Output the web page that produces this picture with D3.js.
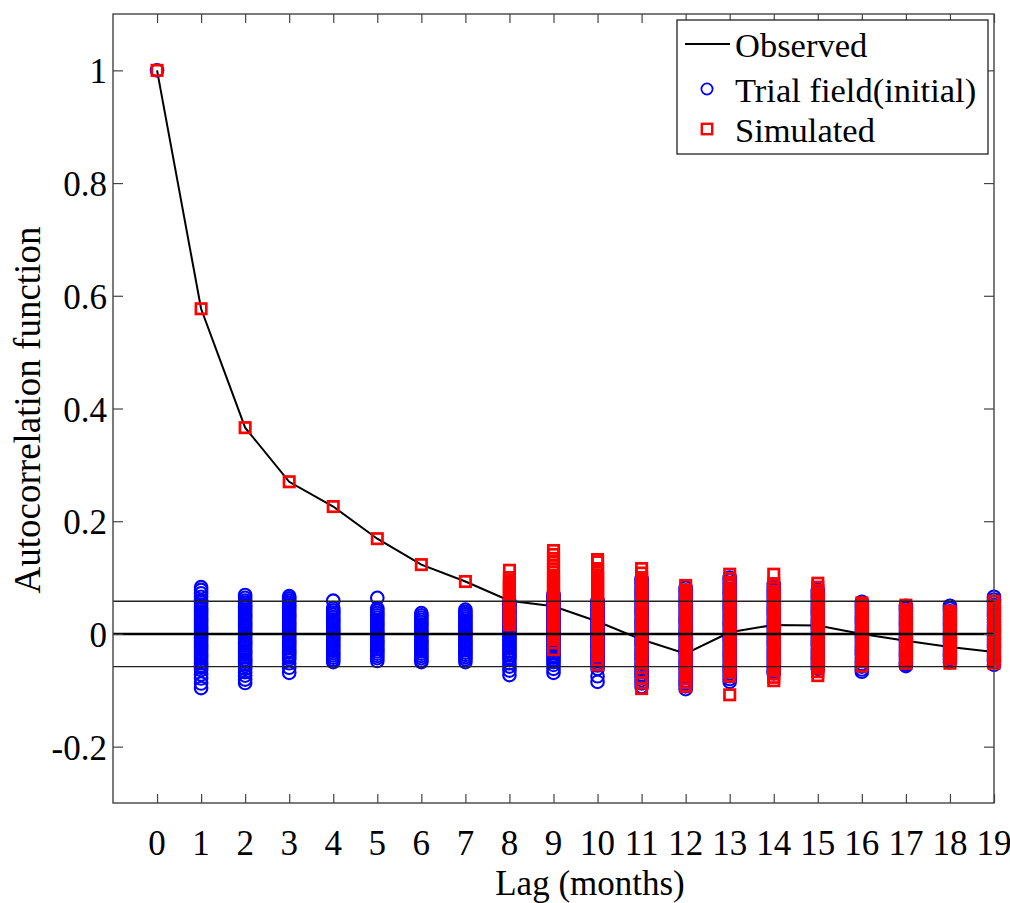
<!DOCTYPE html>
<html>
<head>
<meta charset="utf-8">
<script src="https://cdnjs.cloudflare.com/ajax/libs/d3/7.8.5/d3.min.js"></script>
<style>
  html, body { margin: 0; padding: 0; background: #fff; }
  svg text { font-family: "Liberation Serif", "Times New Roman", serif; fill: #000; }
</style>
</head>
<body>
<svg id="chart" width="1010" height="903"></svg>
<script>
// ---------------- data ----------------
const lags = [0,1,2,3,4,5,6,7,8,9,10,11,12,13,14,15,16,17,18,19];
const observed = [1.0,0.577,0.366,0.270,0.226,0.169,0.123,0.093,0.059,0.049,0.022,-0.010,-0.035,0.003,0.016,0.015,0.000,-0.012,-0.023,-0.032];
const confidenceBound = 0.058;
const xTickLabels = ["0","1","2","3","4","5","6","7","8","9","10","11","12","13","14","15","16","17","18","19"];
const yTickValues = [-0.2,0,0.2,0.4,0.6,0.8,1];
const yTickLabels = ["-0.2","0","0.2","0.4","0.6","0.8","1"];
const legendLabels = ["Observed","Trial field(initial)","Simulated"];

// Trial field (initial) realisations, one list per lag
const trialLag0 = [1.0];
const trialLag1 = [0.083,0.078,0.072,0.066,0.060,0.056,0.052,0.048,0.044,0.040,0.036,0.032,0.028,0.024,0.020,0.016,0.012,0.008,0.004,0.000,-0.004,-0.008,-0.012,-0.016,-0.020,-0.024,-0.028,-0.032,-0.036,-0.040,-0.044,-0.048,-0.052,-0.056,-0.060,-0.064,-0.072,-0.079,-0.088,-0.096];
const trialLag2 = [0.069,0.064,0.059,0.055,0.051,0.047,0.043,0.039,0.035,0.031,0.027,0.023,0.019,0.015,0.011,0.007,0.003,-0.001,-0.005,-0.009,-0.013,-0.017,-0.021,-0.025,-0.029,-0.033,-0.037,-0.041,-0.045,-0.049,-0.053,-0.057,-0.062,-0.068,-0.074,-0.081,-0.087];
const trialLag3 = [0.067,0.063,0.059,0.055,0.051,0.047,0.043,0.039,0.035,0.031,0.027,0.023,0.019,0.015,0.011,0.007,0.003,-0.001,-0.005,-0.009,-0.013,-0.017,-0.021,-0.025,-0.029,-0.033,-0.037,-0.041,-0.045,-0.052,-0.060,-0.069];
const trialLag4 = [0.059,0.046,0.042,0.038,0.034,0.030,0.026,0.022,0.018,0.014,0.010,0.006,0.002,-0.002,-0.006,-0.010,-0.014,-0.018,-0.022,-0.026,-0.030,-0.034,-0.038,-0.042,-0.046,-0.050];
const trialLag5 = [0.064,0.045,0.041,0.037,0.033,0.029,0.025,0.021,0.017,0.013,0.009,0.005,0.001,-0.003,-0.007,-0.011,-0.015,-0.019,-0.023,-0.027,-0.031,-0.035,-0.039,-0.043,-0.048];
const trialLag6 = [0.037,0.033,0.029,0.025,0.021,0.017,0.013,0.009,0.005,0.001,-0.003,-0.007,-0.011,-0.015,-0.019,-0.023,-0.027,-0.031,-0.035,-0.039,-0.043,-0.047,-0.050];
const trialLag7 = [0.043,0.039,0.035,0.031,0.027,0.023,0.019,0.015,0.011,0.007,0.003,-0.001,-0.005,-0.009,-0.013,-0.017,-0.021,-0.025,-0.029,-0.033,-0.037,-0.041,-0.045,-0.050];
const trialLag8 = [0.058,0.054,0.050,0.046,0.042,0.038,0.034,0.030,0.026,0.022,0.018,0.014,0.010,0.006,0.002,-0.002,-0.006,-0.010,-0.014,-0.018,-0.022,-0.026,-0.030,-0.034,-0.038,-0.042,-0.046,-0.052,-0.058,-0.065,-0.073];
const trialLag9 = [0.070,0.066,0.062,0.058,0.054,0.050,0.046,0.042,0.038,0.034,0.030,0.026,0.022,0.018,0.014,0.010,0.006,0.002,-0.002,-0.006,-0.010,-0.014,-0.018,-0.022,-0.026,-0.030,-0.034,-0.038,-0.042,-0.046,-0.050,-0.055,-0.062,-0.069];
const trialLag10 = [0.060,0.056,0.052,0.048,0.044,0.040,0.036,0.032,0.028,0.024,0.020,0.016,0.012,0.008,0.004,0.000,-0.004,-0.008,-0.012,-0.016,-0.020,-0.024,-0.028,-0.032,-0.036,-0.040,-0.044,-0.048,-0.052,-0.056,-0.062,-0.075,-0.085];
const trialLag11 = [0.098,0.093,0.088,0.083,0.078,0.073,0.068,0.063,0.058,0.053,0.048,0.043,0.038,0.033,0.028,0.023,0.018,0.013,0.008,0.003,-0.002,-0.007,-0.012,-0.017,-0.022,-0.027,-0.032,-0.037,-0.042,-0.047,-0.052,-0.057,-0.062,-0.067,-0.072,-0.077,-0.082,-0.088,-0.094];
const trialLag12 = [0.082,0.077,0.072,0.067,0.062,0.057,0.052,0.047,0.042,0.037,0.032,0.027,0.022,0.017,0.012,0.007,0.002,-0.003,-0.008,-0.013,-0.018,-0.023,-0.028,-0.033,-0.038,-0.043,-0.048,-0.053,-0.058,-0.063,-0.068,-0.073,-0.078,-0.083,-0.088,-0.093,-0.098];
const trialLag13 = [0.100,0.095,0.090,0.085,0.080,0.075,0.070,0.065,0.060,0.055,0.050,0.045,0.040,0.035,0.030,0.025,0.020,0.015,0.010,0.005,0.000,-0.005,-0.010,-0.015,-0.020,-0.025,-0.030,-0.035,-0.040,-0.045,-0.050,-0.055,-0.060,-0.065,-0.070,-0.075,-0.080,-0.085];
const trialLag14 = [0.088,0.083,0.078,0.073,0.068,0.063,0.058,0.053,0.048,0.043,0.038,0.033,0.028,0.023,0.018,0.013,0.008,0.003,-0.002,-0.007,-0.012,-0.017,-0.022,-0.027,-0.032,-0.037,-0.042,-0.047,-0.052,-0.057,-0.062,-0.066,-0.070];
const trialLag15 = [0.078,0.073,0.068,0.063,0.058,0.053,0.048,0.043,0.038,0.033,0.028,0.023,0.018,0.013,0.008,0.003,-0.002,-0.007,-0.012,-0.017,-0.022,-0.027,-0.032,-0.037,-0.042,-0.047,-0.052,-0.057,-0.062];
const trialLag16 = [0.057,0.052,0.047,0.042,0.037,0.032,0.027,0.022,0.017,0.012,0.007,0.002,-0.003,-0.008,-0.013,-0.018,-0.023,-0.028,-0.033,-0.038,-0.043,-0.048,-0.053,-0.058,-0.063,-0.067];
const trialLag17 = [0.050,0.045,0.040,0.035,0.030,0.025,0.020,0.015,0.010,0.005,0.000,-0.005,-0.010,-0.015,-0.020,-0.025,-0.030,-0.035,-0.040,-0.045,-0.050,-0.054,-0.057];
const trialLag18 = [0.050,0.045,0.040,0.035,0.030,0.025,0.020,0.015,0.010,0.005,0.000,-0.005,-0.010,-0.015,-0.020,-0.025,-0.030,-0.035,-0.040,-0.045,-0.050];
const trialLag19 = [0.066,0.061,0.056,0.051,0.046,0.041,0.036,0.031,0.026,0.021,0.016,0.011,0.006,0.001,-0.004,-0.009,-0.014,-0.019,-0.024,-0.029,-0.034,-0.039,-0.044,-0.049,-0.055];

// Simulated realisations, one list per lag
const simLag0 = [1.0];
const simLag1 = [0.577];
const simLag2 = [0.366];
const simLag3 = [0.270];
const simLag4 = [0.226];
const simLag5 = [0.169];
const simLag6 = [0.123];
const simLag7 = [0.093];
const simLag8 = [0.113,0.100,0.096,0.092,0.088,0.084,0.080,0.076,0.072,0.068,0.064,0.060,0.056,0.052,0.048,0.044,0.040,0.036,0.032,0.028,0.024,0.020,0.016];
const simLag9 = [0.148,0.141,0.134,0.128,0.121,0.115,0.110,0.104,0.100,0.096,0.092,0.088,0.084,0.080,0.076,0.072,0.068,0.064,0.060,0.056,0.052,0.048,0.044,0.040,0.036,0.032,0.028,0.024,0.020,0.016,0.012,0.008,0.004,0.000,-0.004,-0.008,-0.016,-0.028];
const simLag10 = [0.132,0.128,0.116,0.110,0.105,0.101,0.097,0.093,0.089,0.085,0.081,0.077,0.073,0.069,0.065,0.061,0.057,0.053,0.049,0.045,0.041,0.037,0.033,0.029,0.025,0.021,0.017,0.013,0.009,0.005,0.001,-0.003,-0.007,-0.011,-0.015,-0.019,-0.023,-0.027,-0.031,-0.035,-0.039,-0.046,-0.055];
const simLag11 = [0.116,0.108,0.100,0.093,0.088,0.084,0.080,0.076,0.072,0.068,0.064,0.060,0.056,0.052,0.048,0.044,0.040,0.036,0.032,0.028,0.024,0.020,0.016,0.012,0.008,0.004,0.000,-0.004,-0.008,-0.012,-0.016,-0.020,-0.024,-0.028,-0.032,-0.036,-0.040,-0.044,-0.048,-0.052,-0.060,-0.068,-0.078,-0.087,-0.097];
const simLag12 = [0.086,0.078,0.074,0.070,0.066,0.062,0.058,0.054,0.050,0.046,0.042,0.038,0.034,0.030,0.026,0.022,0.018,0.014,0.010,0.006,0.002,-0.002,-0.006,-0.010,-0.014,-0.018,-0.022,-0.026,-0.030,-0.034,-0.038,-0.042,-0.046,-0.050,-0.054,-0.058,-0.062,-0.066,-0.070,-0.074,-0.080,-0.086,-0.093];
const simLag13 = [0.106,0.098,0.091,0.086,0.080,0.076,0.072,0.068,0.064,0.060,0.056,0.052,0.048,0.044,0.040,0.036,0.032,0.028,0.024,0.020,0.016,0.012,0.008,0.004,0.000,-0.004,-0.008,-0.012,-0.016,-0.020,-0.024,-0.028,-0.032,-0.036,-0.040,-0.044,-0.048,-0.052,-0.056,-0.060,-0.064,-0.068,-0.075,-0.108];
const simLag14 = [0.106,0.089,0.082,0.076,0.072,0.068,0.064,0.060,0.056,0.052,0.048,0.044,0.040,0.036,0.032,0.028,0.024,0.020,0.016,0.012,0.008,0.004,0.000,-0.004,-0.008,-0.012,-0.016,-0.020,-0.024,-0.028,-0.032,-0.036,-0.040,-0.044,-0.048,-0.052,-0.056,-0.060,-0.064,-0.071,-0.077,-0.083];
const simLag15 = [0.090,0.083,0.077,0.071,0.067,0.063,0.059,0.055,0.051,0.047,0.043,0.039,0.035,0.031,0.027,0.023,0.019,0.015,0.011,0.007,0.003,-0.001,-0.005,-0.009,-0.013,-0.017,-0.021,-0.025,-0.029,-0.033,-0.037,-0.041,-0.045,-0.049,-0.053,-0.057,-0.061,-0.067,-0.074];
const simLag16 = [0.055,0.051,0.047,0.043,0.039,0.035,0.031,0.027,0.023,0.019,0.015,0.011,0.007,0.003,-0.001,-0.005,-0.009,-0.013,-0.017,-0.021,-0.025,-0.029,-0.033,-0.037,-0.041,-0.045,-0.049,-0.057];
const simLag17 = [0.051,0.043,0.039,0.035,0.031,0.027,0.023,0.019,0.015,0.011,0.007,0.003,-0.001,-0.005,-0.009,-0.013,-0.017,-0.021,-0.025,-0.029,-0.033,-0.037,-0.041,-0.045,-0.052];
const simLag18 = [0.040,0.036,0.032,0.028,0.024,0.020,0.016,0.012,0.008,0.004,0.000,-0.004,-0.008,-0.012,-0.016,-0.020,-0.024,-0.028,-0.032,-0.036,-0.040,-0.044,-0.052];
const simLag19 = [0.058,0.050,0.046,0.042,0.038,0.034,0.030,0.026,0.022,0.018,0.014,0.010,0.006,0.002,-0.002,-0.006,-0.010,-0.014,-0.018,-0.022,-0.026,-0.030,-0.034,-0.038,-0.042,-0.046,-0.052];

const trialByLag = [trialLag0,trialLag1,trialLag2,trialLag3,trialLag4,trialLag5,trialLag6,trialLag7,trialLag8,trialLag9,trialLag10,trialLag11,trialLag12,trialLag13,trialLag14,trialLag15,trialLag16,trialLag17,trialLag18,trialLag19];
const simByLag = [simLag0,simLag1,simLag2,simLag3,simLag4,simLag5,simLag6,simLag7,simLag8,simLag9,simLag10,simLag11,simLag12,simLag13,simLag14,simLag15,simLag16,simLag17,simLag18,simLag19];

// ---------------- drawing ----------------
const svg = d3.select("#chart");
const L = 113, R = 994, T = 14, B = 803;
const x = d3.scaleLinear().domain([-1, 19]).range([L, R]);
const y = d3.scaleLinear().domain([-0.3, 1.1]).range([B, T]);

const trialPts = [];
lags.forEach((lag, i) => trialByLag[i].forEach(v => trialPts.push({lag, v})));
const simPts = [];
lags.forEach((lag, i) => simByLag[i].forEach(v => simPts.push({lag, v})));

const plot = svg.append("g");

// observed line
plot.append("path")
  .datum(lags.map((l, i) => [l, observed[i]]))
  .attr("fill", "none").attr("stroke", "#000").attr("stroke-width", 2)
  .attr("d", d3.line().x(d => x(d[0])).y(d => y(d[1])));

// trial circles
plot.append("g").selectAll("circle").data(trialPts).join("circle")
  .attr("cx", d => x(d.lag)).attr("cy", d => y(d.v)).attr("r", 6.3)
  .attr("fill", "none").attr("stroke", "#0000ff").attr("stroke-width", 2.1);

// simulated squares
const sq = 10.4;
plot.append("g").selectAll("rect").data(simPts).join("rect")
  .attr("x", d => x(d.lag) - sq / 2).attr("y", d => y(d.v) - sq / 2)
  .attr("width", sq).attr("height", sq)
  .attr("fill", "none").attr("stroke", "#ff0000").attr("stroke-width", 2.7);

// reference lines
[confidenceBound, -confidenceBound].forEach(v => {
  plot.append("line").attr("x1", L).attr("x2", R).attr("y1", y(v)).attr("y2", y(v))
    .attr("stroke", "#222").attr("stroke-width", 1.3);
});
plot.append("line").attr("x1", L).attr("x2", R).attr("y1", y(0)).attr("y2", y(0))
  .attr("stroke", "#000").attr("stroke-width", 2.4);

// frame and ticks
const frameColor = "#444";
const axB = svg.append("g").attr("transform", `translate(0,${B})`)
  .call(d3.axisBottom(x).tickValues(lags).tickSize(-9).tickFormat(""));
const axT = svg.append("g").attr("transform", `translate(0,${T})`)
  .call(d3.axisTop(x).tickValues(lags).tickSize(-9).tickFormat(""));
const axL = svg.append("g").attr("transform", `translate(${L},0)`)
  .call(d3.axisLeft(y).tickValues(yTickValues).tickSize(-10).tickFormat(""));
const axR = svg.append("g").attr("transform", `translate(${R},0)`)
  .call(d3.axisRight(y).tickValues(yTickValues).tickSize(-10).tickFormat(""));
[axB, axT, axL, axR].forEach(a => {
  a.select(".domain").remove();
  a.selectAll("line").attr("stroke", frameColor).attr("stroke-width", 1.2);
});
svg.append("rect").attr("x", L).attr("y", T).attr("width", R - L).attr("height", B - T)
  .attr("fill", "none").attr("stroke", frameColor).attr("stroke-width", 1.4);

// tick labels
svg.append("g").selectAll("text").data(lags).join("text")
  .attr("x", d => x(d)).attr("y", 855).attr("text-anchor", "middle")
  .attr("font-size", 35).text((d, i) => xTickLabels[i]);
svg.append("g").selectAll("text").data(yTickValues).join("text")
  .attr("x", 107).attr("y", d => y(d) + 13).attr("text-anchor", "end")
  .attr("font-size", 35).text((d, i) => yTickLabels[i]);

// axis titles
svg.append("text").attr("x", 590).attr("y", 895).attr("text-anchor", "middle")
  .attr("font-size", 35).text("Lag (months)");
svg.append("text").attr("transform", "translate(40,410) rotate(-90)")
  .attr("text-anchor", "middle").attr("font-size", 37).text("Autocorrelation function");

// legend
const lg = svg.append("g");
lg.append("rect").attr("x", 677).attr("y", 20).attr("width", 311).attr("height", 134)
  .attr("fill", "#fff").attr("stroke", "#222").attr("stroke-width", 1.3);
lg.append("line").attr("x1", 685).attr("x2", 730).attr("y1", 44).attr("y2", 44)
  .attr("stroke", "#000").attr("stroke-width", 2);
lg.append("circle").attr("cx", 707).attr("cy", 89).attr("r", 5.6)
  .attr("fill", "none").attr("stroke", "#0000ff").attr("stroke-width", 1.8);
lg.append("rect").attr("x", 707 - 5.2).attr("y", 129 - 5.2).attr("width", 10.4).attr("height", 10.4)
  .attr("fill", "none").attr("stroke", "#ff0000").attr("stroke-width", 2.4);
[57, 102, 142].forEach((by, i) => {
  lg.append("text").attr("x", 735).attr("y", by).attr("font-size", 34.5).text(legendLabels[i]);
});
</script>
</body>
</html>
